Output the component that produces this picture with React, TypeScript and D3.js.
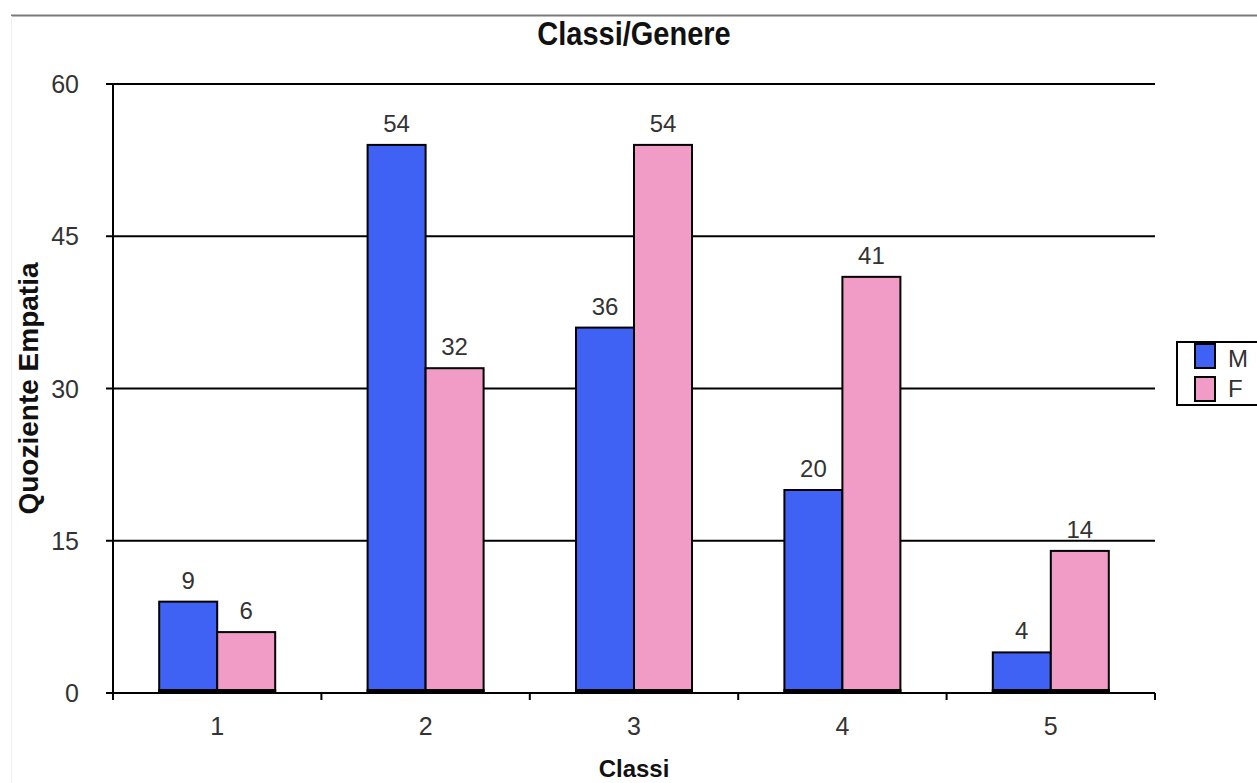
import React from "react";
import * as d3 from "d3";

const classes = ["1", "2", "3", "4", "5"];
const seriesNames = ["M", "F"];
const valuesM = [9, 54, 36, 20, 4];
const valuesF = [6, 32, 54, 41, 14];
const yTicks = [0, 15, 30, 45, 60];
const colors = ["#3f62f4", "#f19cc7"];

const W = 1257;
const H = 783;
const plot = { left: 113, right: 1155, top: 84, bottom: 693 };
const font = "'Liberation Sans', Arial, sans-serif";

export default function App() {
  const x = d3.scaleBand<string>().domain(classes).range([plot.left, plot.right]);
  const y = d3.scaleLinear().domain([0, 60]).range([plot.bottom, plot.top]);
  const inner = d3.scaleBand<string>().domain(seriesNames).range([0, 116]);
  const series = [valuesM, valuesF];
  const bw = x.bandwidth();

  return (
    <svg width={W} height={H} style={{ position: "absolute", left: 0, top: 0, background: "#fff" }}>
      <line x1={11} x2={W} y1={15.5} y2={15.5} stroke="#7a7a7a" strokeWidth={2} />
      <line x1={11.5} x2={11.5} y1={16} y2={H} stroke="#f2f2f2" strokeWidth={1} />
      <text
        transform="translate(634, 45) scale(1, 1.12)"
        textAnchor="middle"
        fontFamily={font}
        fontWeight="bold"
        fontSize={29}
        fill="#111"
      >
        Classi/Genere
      </text>

      {/* gridlines and y ticks */}
      {yTicks.map((t) => (
        <g key={t}>
          {t > 0 && (
            <line x1={plot.left} x2={plot.right} y1={y(t)} y2={y(t)} stroke="#000" strokeWidth={2} />
          )}
          <line x1={plot.left - 7} x2={plot.left} y1={y(t)} y2={y(t)} stroke="#000" strokeWidth={2} />
          <text x={79} y={y(t) + 9} textAnchor="end" fontFamily={font} fontSize={25} fill="#333">
            {t}
          </text>
        </g>
      ))}

      {/* bars */}
      {classes.map((c, i) => {
        const x0 = (x(c) as number) + bw / 2 - 58;
        return (
          <g key={c}>
            {seriesNames.map((s, j) => {
              const v = series[j][i];
              const bx = x0 + (inner(s) as number);
              return (
                <g key={s}>
                  <rect
                    x={bx}
                    y={y(v)}
                    width={inner.bandwidth()}
                    height={plot.bottom - y(v)}
                    fill={colors[j]}
                    stroke="#000"
                    strokeWidth={2}
                  />
                  <text
                    x={bx + inner.bandwidth() / 2}
                    y={y(v) - 13}
                    textAnchor="middle"
                    fontFamily={font}
                    fontSize={24}
                    fill="#333"
                  >
                    {v}
                  </text>
                </g>
              );
            })}
            <line x1={x0 - 1} x2={x0 + 117} y1={plot.bottom - 2} y2={plot.bottom - 2} stroke="#000" strokeWidth={4} />
          </g>
        );
      })}

      {/* axes */}
      <line x1={plot.left} x2={plot.left} y1={plot.top} y2={plot.bottom} stroke="#000" strokeWidth={2} />
      <line x1={plot.left - 7} x2={plot.right} y1={plot.bottom} y2={plot.bottom} stroke="#000" strokeWidth={2} />
      {classes.map((c) => (
        <line key={c} x1={x(c)} x2={x(c)} y1={plot.bottom} y2={plot.bottom + 7} stroke="#000" strokeWidth={2} />
      ))}
      <line x1={plot.right} x2={plot.right} y1={plot.bottom} y2={plot.bottom + 7} stroke="#000" strokeWidth={2} />
      {classes.map((c) => (
        <text
          key={c}
          x={(x(c) as number) + bw / 2}
          y={plot.bottom + 42}
          textAnchor="middle"
          fontFamily={font}
          fontSize={25}
          fill="#333"
        >
          {c}
        </text>
      ))}
      <text x={634} y={777} textAnchor="middle" fontFamily={font} fontWeight="bold" fontSize={24} fill="#111">
        Classi
      </text>
      <text
        transform={`translate(38, ${y(30)}) rotate(-90)`}
        textAnchor="middle"
        fontFamily={font}
        fontWeight="bold"
        fontSize={28}
        fill="#111"
      >
        Quoziente Empatia
      </text>

      {/* legend */}
      <rect x={1177} y={342} width={90} height={63} fill="#fff" stroke="#000" strokeWidth={2} />
      {seriesNames.map((s, j) => (
        <g key={s}>
          <rect x={1195} y={344 + j * 33} width={20} height={24} fill={colors[j]} stroke="#000" strokeWidth={2} />
          <text x={1228} y={367 + j * 30} fontFamily={font} fontSize={24} fill="#333">
            {s}
          </text>
        </g>
      ))}
    </svg>
  );
}
